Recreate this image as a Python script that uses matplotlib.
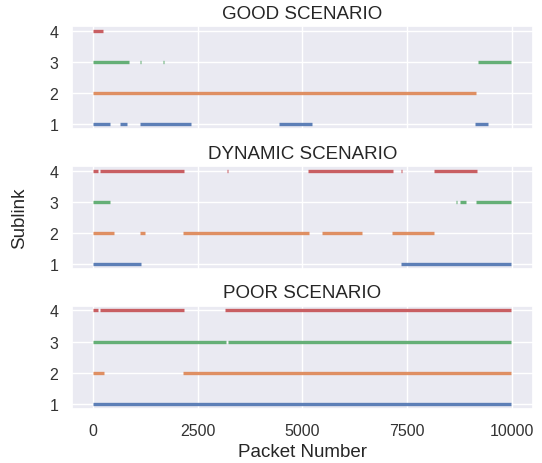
import matplotlib
matplotlib.use("Agg")
import matplotlib.pyplot as plt
import seaborn as sns

sns.set_theme(style="darkgrid")
plt.rcParams['font.family'] = ['Liberation Sans', 'DejaVu Sans']

scenarios = ["GOOD SCENARIO", "DYNAMIC SCENARIO", "POOR SCENARIO"]
sublinks = [1, 2, 3, 4]

# packet ranges (start, end) during which each sublink was in use
good = {
    1: [(0, 410), (650, 800), (1120, 2340), (4440, 5220), (9110, 9430)],
    2: [(0, 9150)],
    3: [(0, 860), (1130, 1150), (1680, 1700), (9190, 9990)],
    4: [(0, 230)],
}
dynamic = {
    1: [(0, 1150), (7360, 9990)],
    2: [(0, 500), (1120, 1230), (2150, 5160), (5460, 6430), (7130, 8150)],
    3: [(0, 410), (8670, 8690), (8760, 8900), (9140, 9990)],
    4: [(0, 120), (160, 2180), (3210, 3230), (5130, 7170), (7350, 7370), (8130, 9170)],
}
poor = {
    1: [(0, 9990)],
    2: [(0, 260), (2150, 9990)],
    3: [(0, 3170), (3230, 9990)],
    4: [(0, 120), (160, 2180), (3140, 9990)],
}
all_data = [good, dynamic, poor]

colors = sns.color_palette("deep")

fig, axes = plt.subplots(3, 1, figsize=(5.42, 4.64), dpi=100, sharex=True)
fig.subplots_adjust(left=0.133, right=0.983, top=0.942, bottom=0.117, hspace=0.36)

for ax, title, data in zip(axes, scenarios, all_data):
    for i, s in enumerate(sublinks):
        for start, end in data[s]:
            ax.plot([start, end], [s, s], color=colors[i], lw=2.4,
                    solid_capstyle="butt", alpha=0.9)
    ax.set_title(title, fontsize=13.5, pad=6, color="#262626")
    ax.set_yticks(sublinks)
    ax.set_ylim(0.85, 4.15)
    ax.tick_params(labelsize=11.5, pad=4, labelcolor="#333333")

axes[-1].set_xlim(-500, 10500)
axes[-1].set_xticks([0, 2500, 5000, 7500, 10000])
axes[-1].set_xlabel("Packet Number", fontsize=13.5, labelpad=4)
axes[1].set_ylabel("Sublink", fontsize=13.5, labelpad=15)

fig.savefig("out.png", dpi=100)
